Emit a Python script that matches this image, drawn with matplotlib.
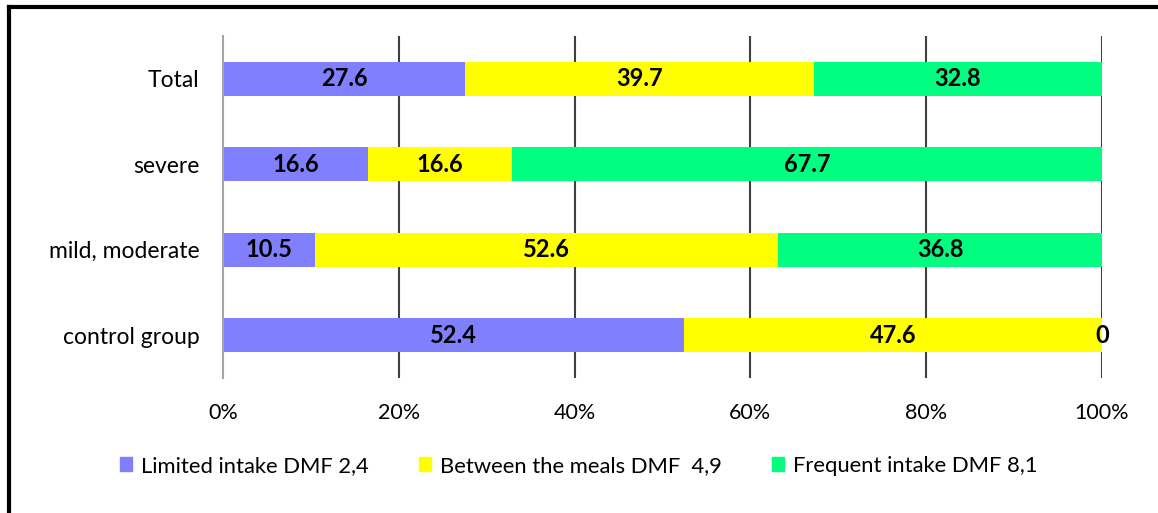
import numpy as np
import matplotlib.pyplot as plt
from matplotlib.lines import Line2D

plt.rcParams['font.family'] = ['Lato', 'DejaVu Sans']

groups = ['Total', 'severe', 'mild, moderate', 'control group']
limited = [27.6, 16.6, 10.5, 52.4]
between = [39.7, 16.6, 52.6, 47.6]
frequent = [32.8, 67.7, 36.8, 0]
series = [('Limited intake DMF 2,4', limited, '#8080FF'),
          ('Between the meals DMF  4,9', between, '#FFFF00'),
          ('Frequent intake DMF 8,1', frequent, '#00FF80')]
xticks = [0, 20, 40, 60, 80, 100]

fig = plt.figure(figsize=(11.58, 5.13), dpi=100)
ax = fig.add_axes([0.1926, 0.2632, 0.759, 0.6667])

y = np.arange(len(groups))
totals = np.array(limited) + np.array(between) + np.array(frequent)
left = np.zeros(len(groups))
for name, vals, col in series:
    share = np.array(vals) / totals * 100
    ax.barh(y, share, left=left, height=0.4, color=col, label=name, zorder=2)
    for yi, l, w, v in zip(y, left, share, vals):
        ax.text(l + w / 2, yi, f'{v:g}', ha='center', va='center',
                fontsize=17, fontweight='bold', zorder=3)
    left += share

ax.set_xlim(0, 100)
ax.set_ylim(len(groups) - 0.5, -0.5)
ax.set_yticks(y)
ax.set_yticklabels(groups, fontsize=16.5)
ax.set_xticks(xticks)
ax.set_xticklabels([f'{t}%' for t in xticks], fontsize=15.5)
ax.tick_params(length=0, pad=17, axis='y')
ax.tick_params(length=0, pad=18, axis='x')
for t in xticks[1:]:
    ax.axvline(t, color='#404040', lw=1.5, zorder=1)
for s in ['top', 'right', 'bottom']:
    ax.spines[s].set_visible(False)
ax.spines['left'].set_color('#A6A6A6')
ax.spines['left'].set_linewidth(1.5)

handles = [plt.Rectangle((0, 0), 1, 1, color=c) for _, _, c in series]
fig.legend(handles, [n for n, _, _ in series], loc='center',
           bbox_to_anchor=(0.5, 0.092), ncol=3, frameon=False, fontsize=15.8,
           handlelength=0.55, handleheight=0.55, handletextpad=0.4,
           columnspacing=2.3)

# outer frame, only top and left edges fall inside the canvas
fig.add_artist(Line2D([9 / 1158, 1.0], [1 - 7 / 513, 1 - 7 / 513],
                      transform=fig.transFigure, color='black', lw=3))
fig.add_artist(Line2D([9 / 1158, 9 / 1158], [0, 1 - 7 / 513],
                      transform=fig.transFigure, color='black', lw=3))

fig.savefig('out.png', dpi=100)
